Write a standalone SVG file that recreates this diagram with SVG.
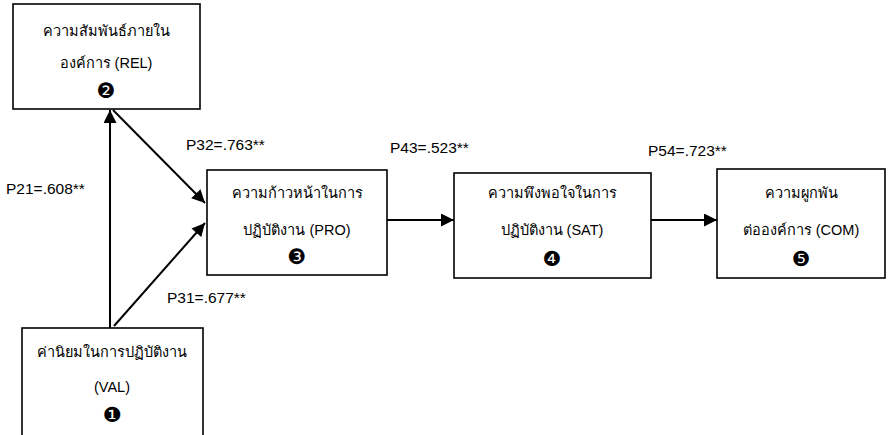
<svg xmlns="http://www.w3.org/2000/svg" width="895" height="435" viewBox="0 0 895 435">
<style>
.box{fill:#fff;stroke:#000;stroke-width:1.6}
.t{font-family:"Liberation Sans","Noto Sans",sans-serif;font-size:14.5px;fill:#000;text-anchor:middle;dominant-baseline:central}
.n{font-family:"DejaVu Sans",sans-serif;font-size:21px;fill:#000;text-anchor:middle;dominant-baseline:central}
.l{font-family:"Liberation Sans","Noto Sans",sans-serif;font-size:15.5px;fill:#000;dominant-baseline:central}
.c{stroke:#000;stroke-width:2;fill:none;marker-end:url(#ah)}
</style>
<defs>
<marker id="ah" viewBox="0 0 10 10" refX="10" refY="5" markerWidth="7" markerHeight="6.5" markerUnits="strokeWidth" orient="auto">
<path d="M0,0 L10,5 L0,10 z" fill="#000"/>
</marker>
</defs>
<g id="connectors">
<line class="c" x1="110" y1="328" x2="110" y2="110"/>
<line class="c" x1="113" y1="110" x2="205" y2="203"/>
<line class="c" x1="114" y1="326" x2="205" y2="223"/>
<line class="c" x1="387" y1="220" x2="454" y2="220"/>
<line class="c" x1="651" y1="220" x2="717" y2="220"/>
</g>
<g id="labels">
<text class="l" x="186" y="144">P32=.763**</text>
<text class="l" x="6" y="188">P21=.608**</text>
<text class="l" x="167" y="297">P31=.677**</text>
<text class="l" x="390" y="147">P43=.523**</text>
<text class="l" x="648" y="150">P54=.723**</text>
</g>
<g id="node-rel">
<rect class="box" x="13" y="4" width="187" height="105"/>
<text class="t" x="106" y="31">ความสัมพันธ์ภายใน</text>
<text class="t" x="106" y="63">องค์การ (REL)</text>
<text class="n" x="106" y="91">❷</text>
</g>
<g id="node-pro">
<rect class="box" x="207" y="170" width="180" height="105"/>
<text class="t" x="297" y="193">ความก้าวหน้าในการ</text>
<text class="t" x="297" y="230">ปฏิบัติงาน (PRO)</text>
<text class="n" x="297" y="257">❸</text>
</g>
<g id="node-sat">
<rect class="box" x="454" y="173" width="197" height="105"/>
<text class="t" x="552" y="193">ความพึงพอใจในการ</text>
<text class="t" x="552" y="230">ปฏิบัติงาน  (SAT)</text>
<text class="n" x="552" y="259">❹</text>
</g>
<g id="node-com">
<rect class="box" x="717" y="169" width="168" height="109"/>
<text class="t" x="801" y="193">ความผูกพัน</text>
<text class="t" x="801" y="230">ต่อองค์การ (COM)</text>
<text class="n" x="801" y="259">❺</text>
</g>
<g id="node-val">
<rect class="box" x="22" y="328" width="181" height="108"/>
<text class="t" x="112" y="352">ค่านิยมในการปฏิบัติงาน</text>
<text class="t" x="112" y="387">(VAL)</text>
<text class="n" x="112" y="415">❶</text>
</g>
</svg>
